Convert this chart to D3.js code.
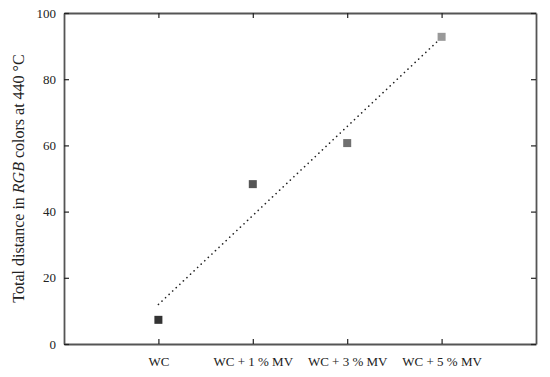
<!DOCTYPE html>
<html>
<head>
<meta charset="utf-8">
<script src="https://cdn.jsdelivr.net/npm/d3@7"></script>
<style>
  body { margin: 0; background: #fff; }
  text { font-family: "Liberation Serif", "DejaVu Serif", serif; fill: #222; }
</style>
</head>
<body>
<div id="chart"></div>
<script>
var samples = ["WC", "WC + 1 % MV", "WC + 3 % MV", "WC + 5 % MV"];
var distance = [7.3, 48.3, 60.7, 92.8];
var markerColors = ["#333333", "#555555", "#707070", "#999999"];
var yTicks = [0, 20, 40, 60, 80, 100];

var width = 550, height = 377;
var plotLeft = 64, plotRight = 536, plotTop = 13, plotBottom = 344;

var svg = d3.select("#chart").append("svg")
            .attr("width", width)
            .attr("height", height);

var x = d3.scaleLinear().domain([0, samples.length + 1]).range([plotLeft, plotRight]);
var y = d3.scaleLinear().domain([0, 100]).range([plotBottom, plotTop]);

// axes: ticks point inward on all four sides
var tickFmt = function(d, i) { return samples[i]; };
var xIdx = samples.map(function(d, i) { return i + 1; });

svg.append("g").attr("transform", "translate(0," + plotBottom + ")")
   .call(d3.axisBottom(x).tickValues(xIdx).tickSizeInner(-5).tickSizeOuter(0).tickPadding(13).tickFormat(tickFmt))
   .call(styleAxis);
svg.append("g").attr("transform", "translate(0," + plotTop + ")")
   .call(d3.axisTop(x).tickValues(xIdx).tickSizeInner(-5).tickSizeOuter(0).tickFormat(""))
   .call(styleAxis);
svg.append("g").attr("transform", "translate(" + plotLeft + ",0)")
   .call(d3.axisLeft(y).tickValues(yTicks).tickSizeInner(-5).tickSizeOuter(0).tickPadding(8))
   .call(styleAxis);
svg.append("g").attr("transform", "translate(" + plotRight + ",0)")
   .call(d3.axisRight(y).tickValues(yTicks).tickSizeInner(-5).tickSizeOuter(0).tickFormat(""))
   .call(styleAxis);

function styleAxis(g) {
  g.select(".domain").attr("stroke", "#555").attr("stroke-width", 1.8);
  g.selectAll(".tick line").attr("stroke", "#222").attr("stroke-width", 1.2);
  g.selectAll(".tick text").attr("font-size", 13).attr("fill", "#222")
   .style("font-family", "'Liberation Serif', 'DejaVu Serif', serif");
}

// trend line (least squares through the points)
var xs = xIdx, n = xs.length;
var mx = d3.mean(xs), my = d3.mean(distance);
var slope = d3.sum(xs, function(d, i) { return (d - mx) * (distance[i] - my); }) /
            d3.sum(xs, function(d) { return (d - mx) * (d - mx); });
var icpt = my - slope * mx;
svg.append("line")
   .attr("x1", x(1)).attr("y1", y(icpt + slope * 1))
   .attr("x2", x(n)).attr("y2", y(icpt + slope * n))
   .attr("stroke", "#222")
   .attr("stroke-width", 1.6)
   .attr("stroke-linecap", "round")
   .attr("stroke-dasharray", "0.1 4.8");

// markers
svg.selectAll("rect.pt")
   .data(distance)
   .enter()
   .append("rect")
   .attr("class", "pt")
   .attr("x", function(d, i) { return x(i + 1) - 4; })
   .attr("y", function(d) { return y(d) - 4; })
   .attr("width", 8)
   .attr("height", 8)
   .attr("fill", function(d, i) { return markerColors[i]; });

// y label
var lab = svg.append("text")
   .attr("transform", "translate(24," + ((plotTop + plotBottom) / 2) + ") rotate(-90)")
   .attr("text-anchor", "middle")
   .attr("font-size", 16);
lab.append("tspan").text("Total distance in ");
lab.append("tspan").attr("font-style", "italic").text("RGB");
lab.append("tspan").text(" colors at 440 °C");
</script>
</body>
</html>
